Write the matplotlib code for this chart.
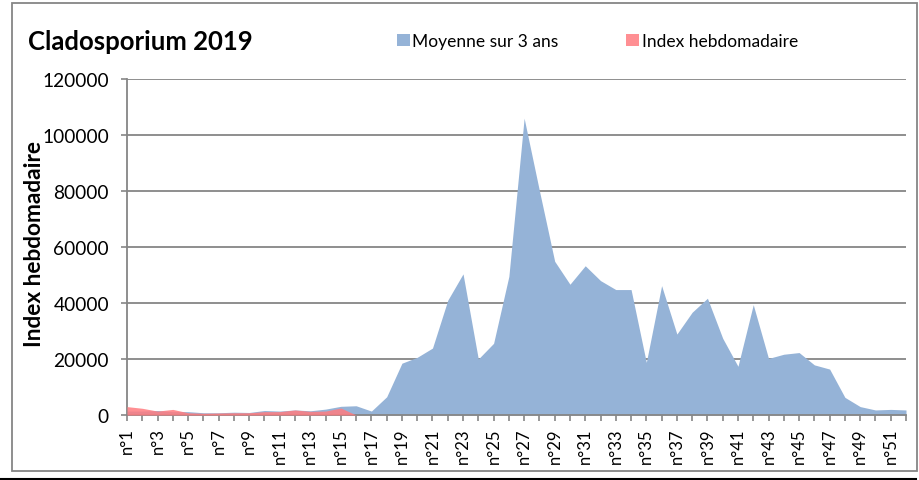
import matplotlib.pyplot as plt
from matplotlib.patches import Rectangle
from matplotlib.lines import Line2D

plt.rcParams["font.family"] = ["Lato", "DejaVu Sans"]

# weekly values
weeks = list(range(1, 53))
week_labels = ["n°{}".format(w) if w % 2 == 1 else "" for w in weeks]

moyenne_3_ans = [
    1400, 1400, 1600, 1200, 1200, 800, 800, 1000, 900, 1600,
    1400, 1800, 1500, 2100, 3100, 3300, 1400, 6500, 18500, 20600,
    23900, 41000, 50400, 20000, 25600, 49500, 106000, 80100, 54900, 46700,
    53300, 48000, 44800, 44800, 18800, 46200, 28900, 36700, 41700, 27400,
    17400, 39400, 20200, 21700, 22300, 17900, 16400, 6300, 3000, 1800,
    2000, 1800,
]
index_weeks = list(range(1, 17))
index_hebdo = [3000, 2400, 1400, 2000, 800, 600, 700, 800, 800, 1200,
               1200, 1800, 1300, 1400, 2500, 0]

y_ticks = [0, 20000, 40000, 60000, 80000, 100000, 120000]

BLUE = "#95B3D7"
RED = "#FF7C80"
GRID = "#868686"

fig = plt.figure(figsize=(9.2, 4.81), dpi=100)
ax = fig.add_axes([127 / 920, 1 - 416 / 481, (906 - 127) / 920, 336 / 481])

ax.fill_between(weeks, moyenne_3_ans, 0, color=BLUE, linewidth=0,
                label="Moyenne sur 3 ans", zorder=2)
ax.fill_between(index_weeks, index_hebdo, 0, color=RED, alpha=0.85,
                linewidth=0, label="Index hebdomadaire", zorder=3)

ax.set_xlim(1, 52)
ax.set_ylim(0, 120000)
ax.set_yticks(y_ticks)
ax.set_yticklabels([str(v) for v in y_ticks], fontsize=13.8)
ax.set_xticks(weeks)
ax.set_xticklabels(week_labels, rotation=90, fontsize=12)
ax.tick_params(axis="both", color=GRID, length=4, width=1.2)
ax.tick_params(axis="y", pad=9)
ax.tick_params(axis="x", pad=5)
ax.grid(axis="y", color=GRID, linewidth=1.3, zorder=1)
ax.set_axisbelow(True)

for side in ["top", "right"]:
    ax.spines[side].set_visible(False)
for side in ["left", "bottom"]:
    ax.spines[side].set_color(GRID)
    ax.spines[side].set_linewidth(1.3)

fig.text(28 / 920, 1 - 42 / 481, "Cladosporium 2019", fontsize=18.5,
         fontweight="bold", va="center", ha="left")
fig.text(35 / 920, 1 - 244 / 481, "Index hebdomadaire", fontsize=16.3,
         fontweight="bold", rotation=90, va="center", ha="center")

fig.legend(loc="center left", bbox_to_anchor=(381 / 920, 1 - 42 / 481),
           ncol=2, frameon=False, fontsize=12.5, handlelength=0.75,
           handleheight=0.75, handletextpad=0.15, columnspacing=3.9)

# outer chart frame and the bottom rule
fig.patches.append(Rectangle((12 / 920, 1 - 472 / 481), 905 / 920, 468 / 481,
                             transform=fig.transFigure, fill=False,
                             edgecolor=GRID, linewidth=1.3))
fig.lines.append(Line2D([0, 916 / 920], [1 - 480 / 481] * 2,
                        transform=fig.transFigure, color="black",
                        linewidth=1.5))

fig.savefig("out.png", dpi=100)
